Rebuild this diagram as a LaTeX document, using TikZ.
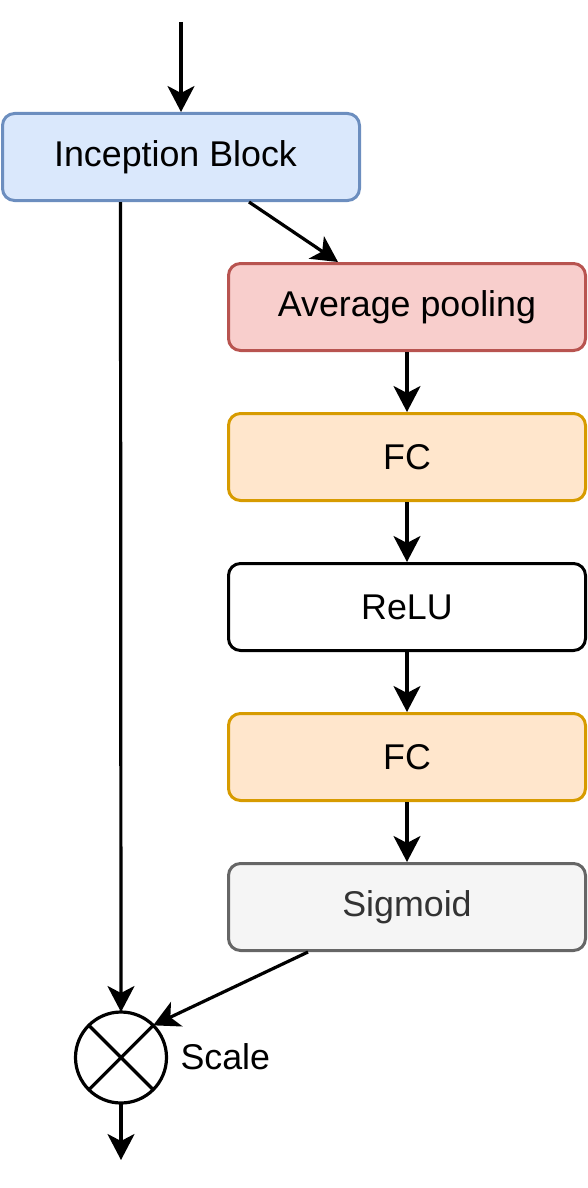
\documentclass[tikz,border=0pt]{standalone}
\usepackage{fontspec}
\setmainfont{Liberation Sans}
\usetikzlibrary{arrows.meta,shapes.geometric}
\definecolor{blueF}{HTML}{DAE8FC}\definecolor{blueD}{HTML}{6C8EBF}
\definecolor{redF}{HTML}{F8CECC}\definecolor{redD}{HTML}{B85450}
\definecolor{orgF}{HTML}{FFE6CC}\definecolor{orgD}{HTML}{D79B00}
\definecolor{grayF}{HTML}{F5F5F5}\definecolor{grayD}{HTML}{666666}\definecolor{grayT}{HTML}{333333}
\tikzset{
  blk/.style={draw, rounded corners=12pt, line width=3pt, minimum width=357pt, minimum height=87pt, inner sep=0pt,
    font=\fontsize{35.8}{40}\selectfont},
  conn/.style={line width=3.2pt, -{Stealth[length=26pt,width=27pt,inset=7pt]}},
  plain/.style={line width=3.2pt},
}
\begin{document}
\begin{tikzpicture}[x=1pt,y=-1pt]
\useasboundingbox (0,0) rectangle (588,1188);
\node[blk, fill=blueF, draw=blueD] (inc) at (181,157) {};
\node[font=\fontsize{35.8}{40}\selectfont] (inct) at (175.5,157) {Inception Block};
\node[blk, fill=redF, draw=redD] (avg) at (407,307) {Average pooling};
\node[blk, fill=orgF, draw=orgD] (fc1) at (407,457) {FC};
\node[blk, fill=white, draw=black] (relu) at (407,607) {ReLU};
\node[blk, fill=orgF, draw=orgD] (fc2) at (407,757) {FC};
\node[blk, fill=grayF, draw=grayD, text=grayT] (sig) at (407,907) {Sigmoid};
\node[circle, draw, line width=3.2pt, minimum size=91pt, inner sep=0pt, outer sep=0pt] (mul) at (121,1057.5) {};
\draw[plain] (mul.45) -- (mul.225) (mul.135) -- (mul.315);
\node[font=\fontsize{35.8}{40}\selectfont, anchor=west] (scl) at (177,1057) {Scale};
\coordinate (in) at (181,22);
\coordinate (out) at (121,1160);
\draw[conn] (in) -- (inc.north);
\draw[conn] ([xshift=248pt]inc.south west) -- ([xshift=111pt]avg.north west);
\draw[conn] (avg) -- (fc1);
\draw[conn] (fc1) -- (relu);
\draw[conn] (relu) -- (fc2);
\draw[conn] (fc2) -- (sig);
\draw[conn] ([xshift=81pt]sig.south west) -- (mul.45);
\draw[conn] ([xshift=119.5pt]inc.south west) -- (mul.north);
\draw[conn] (mul.south) -- (out);
\end{tikzpicture}
\end{document}
